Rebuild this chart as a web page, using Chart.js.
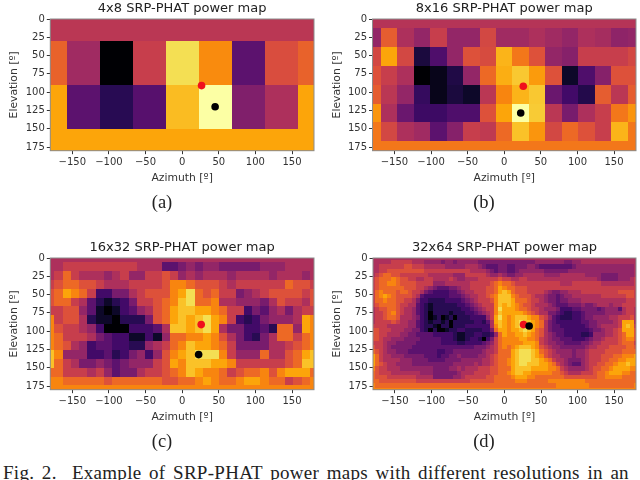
<!DOCTYPE html>
<html lang="en">
<head>
<meta charset="UTF-8">
<title>SRP-PHAT power maps</title>
<script src="https://cdn.jsdelivr.net/npm/chart.js"></script>
<style>
  html, body { margin: 0; padding: 0; background: #fff; overflow: hidden; }
  body { width: 640px; height: 480px; position: relative; }
  canvas { position: absolute; }
  .cap { position: absolute; font-family: "Liberation Serif", serif; font-size: 18.5px; color: #222; width: 60px; text-align: center; line-height: 20px; }
  #foot { position: absolute; left: 3px; top: 463px; width: 640px; font-family: "Liberation Serif", serif; font-size: 19px; color: #222; white-space: pre; line-height: 20px; word-spacing: 2.6px; letter-spacing: 0.28px; }
</style>
</head>
<body>
<canvas id="pa" width="320" height="200" style="left:0;top:0"></canvas>
<canvas id="pb" width="320" height="200" style="left:320px;top:0"></canvas>
<canvas id="pc" width="320" height="200" style="left:0;top:239px"></canvas>
<canvas id="pd" width="320" height="200" style="left:320px;top:239px"></canvas>
<div class="cap" style="left:132px;top:192px">(a)</div>
<div class="cap" style="left:454px;top:192px">(b)</div>
<div class="cap" style="left:132px;top:431px">(c)</div>
<div class="cap" style="left:454px;top:431px">(d)</div>
<div id="foot">Fig. 2.  Example of SRP-PHAT power maps with different resolutions in an</div>
<script>
// power levels: 0 = black ... 15 = pale yellow (inferno)
const inferno = ['#000004','#0d0829','#280b53','#420a68','#5c126e','#781c6d','#932667','#ad305c','#c73e4c','#dd513a','#ed6925','#f8850f','#fca50a','#fac228','#f4df53','#fcffa4'];

const xTicks = [-150, -100, -50, 0, 50, 100, 150];
const yTicks = [0, 25, 50, 75, 100, 125, 150, 175];
const xLabel = 'Azimuth [º]';
const yLabel = 'Elevation [º]';

const titles = ['4x8 SRP-PHAT power map', '8x16 SRP-PHAT power map', '16x32 SRP-PHAT power map', '32x64 SRP-PHAT power map'];

// [azimuth, elevation] of the two markers in each panel
const redPoints = [[26.5, 91], [26, 92], [26, 91], [26, 91]];
const blackPoints = [[45, 120], [22.5, 128.5], [22.5, 132], [33.75, 92.9]];

const map4x8 = [
  [7.5, 7.5, 7.5, 7.5, 7.5, 7.5, 7.5, 7.5],
  [9.7, 6.5, 0, 8, 14, 11.2, 4, 8.8],
  [12, 4, 2, 3.8, 12.8, 15, 5.3, 7],
  [12, 12, 12, 12, 12, 12, 12, 12]
];

const map8x16 = [
  [7.3, 7.3, 7.3, 7.3, 7.3, 7.3, 7.3, 7.3, 7.3, 7.3, 7.3, 7.3, 7.3, 7.3, 7.3, 7.3],
  [6, 9.5, 7, 6, 8, 6, 6, 8.5, 6.5, 6.5, 7, 6.5, 6, 7, 6.7, 5.8],
  [8.5, 12, 8.5, 1.5, 3.5, 6, 9, 8.7, 12.5, 10.5, 9, 6, 5.5, 8, 8, 8],
  [9, 8, 7, 0, 0.6, 1.7, 6, 10, 12.3, 13.2, 11.7, 9, 1, 3.5, 5.5, 9],
  [9.5, 7.5, 6, 2.5, 0.6, 1.5, 1, 7.5, 11, 12.5, 13.2, 4.5, 3, 1.8, 9.5, 7.5],
  [11.5, 7, 4.5, 2.8, 2.8, 3.5, 3.5, 9, 12, 15, 13.3, 7.5, 5, 7, 8, 10.5],
  [10.5, 8.5, 7, 6.5, 4, 5.5, 8, 7.7, 10, 13, 11.5, 8.5, 10, 9, 8, 12.5],
  [10.5, 10.5, 10.5, 10.5, 10.5, 10.5, 10.5, 10.5, 10.5, 10.5, 10.5, 10.5, 10.5, 10.5, 10.5, 10.5]
];

// one hex digit per cell
const map16x32 = [
  '77777777777777777777777777777777',
  '77888888888777445656655555666777',
  '78a87776786688986767776777767776',
  '89aa99877788889bba99987888888a99',
  '9acba8335578999bcea9a88567899998',
  '9aa87421235889abdeaab77666579887',
  '88996410134679acddccba8835467578',
  'b8997211022259acdcdecb832356667c',
  'b98876300033347ddcdec7553342aa6c',
  'ba8887543311316aabbcb9753257aa8a',
  'ba9763443322678abdccba855557789a',
  'db6663342356369bcdeeeb8666a779ac',
  'da8755654566689cbdddccb8888889ad',
  'aa8887864557889abdcbba89aab9bccc',
  'bbaaaaa9aaaaaa99aabcbaabccbaa89a',
  'bbbbbbbbbbbbbbbbbbbbbbbbbbbbbbbb'
];

// azimuth -180 .. -5.6
const map32x64Left = [
  '77777777777777777777777777777777',
  '77777888887776666566566666555555',
  '77888888998887777766666777654445',
  '77889999999998888888888877776545',
  '789aa998888888777777666888887667',
  '89aaaba9988778877778766777888889',
  '89aabba99998888666777777888889ab',
  '89aaaaaa9998876544455677888899ac',
  '8abaaa9aa988754333344567788899ac',
  '8abcba99998743333334445677889abd',
  '8aabaa998875332222333345678889bd',
  '89aaaa988774321222222334567888bd',
  '7899aa987764321222222233456788be',
  '7889ab987764320222212223345678bd',
  '7889aa977765320120120222333368ce',
  '788889877664321221202222233247cd',
  '888877777664322102202223333337bd',
  '998887776655320200122332222335ac',
  '99887776655444433333211223322 36a'.split(' ').join(''),
  '998776665555444443332112332035 8a'.split(' ').join(''),
  '88876655555444444333322333345 68a'.split(' ').join(''),
  '98876555554444444444444445556 78a'.split(' ').join(''),
  'a9876655544444443344555555567 78a'.split(' ').join(''),
  'ca877666555554443445565555667 89a'.split(' ').join(''),
  'ca877776665555444455556666677 89a'.split(' ').join(''),
  'ca987766665555555555666667677 89a'.split(' ').join(''),
  'b9887776666666655556676777888 99a'.split(' ').join(''),
  'a9888777777766655555567778888 99a'.split(' ').join(''),
  'a9998888888777755555667888889 9aa'.split(' ').join(''),
  'aa99999999988888888888889999 99aa'.split(' ').join(''),
  'baaaaaaaaaaaaaaaaaaaaaaaaaaaaaaa',
  'bbbbbbbbbbbbbbbbbbbbbbbbbbbbbbbb'
];

// azimuth 0 .. 174.4
const map32x64Right = [
  '77777777777777777777777777777777',
  '55555555666666655667777777777777',
  '54455566544444444566666666666666',
  '54456666665555556666666666666666',
  '65566777776666777777666655556666',
  '88778877777777777777777655556667',
  'aa988888888888777888888877777777',
  'baa99988888888888888888888888888',
  'dca99988887655667778888888889999',
  'ddba9998776554566777777788888899',
  'ddcaaa98876554556667777777777788',
  'cdcba998777654445556556777677888',
  'cccbaa98876665333445555456664788',
  'cccccba9877554322334555556666788',
  'cbcdddcbb98643222334556666778889',
  'cbcdeddcba7543333334455666678ccc',
  'cbcdeedcba7544333333455677778cdc',
  'cbccdedca97544433333345567789ccc',
  'cbbccdcba97654433332236667789acc',
  'bbbbccbba87655444333456678889abb',
  'bbbbbcccb87665544445567788889aaa',
  'babcdddcb987665555556778889999aa',
  'aacdeeedca9876666566788889999aaa',
  'aacdeeedcb98776665667888999aabbb',
  'abcdeeeddcba87765556788899aabbcc',
  'abcdeedddccba876544678899aabccdc',
  'aacddddccccbba8766667899aabccccb',
  'abcddccbbbbbaa987778889aabcccbba',
  'aabcccbbaaaaaaa99999999aabbbbaaa',
  'aaabbbaaaaabbbbbbbbbaaaaaaaaaaaa',
  'aaaaaaaaaaaaabbbbbbbbaaaaaaaaaaa',
  'bbbbbbbbbbbbbbbbbbbbbbbbbbbbbbbb'
];

function hexRows(rows) {
  return rows.map(r => r.split('').map(c => parseInt(c, 16)));
}

const maps = [
  map4x8,
  map8x16,
  hexRows(map16x32),
  hexRows(map32x64Left.map((r, i) => r + map32x64Right[i]))
];

function levelColor(v) {
  const lo = Math.floor(v), hi = Math.min(lo + 1, 15), t = v - lo;
  const rgb = s => [1, 3, 5].map(i => parseInt(s.substr(i, 2), 16));
  const a = rgb(inferno[lo]), b = rgb(inferno[hi]);
  return 'rgb(' + a.map((x, i) => Math.round(x + (b[i] - x) * t)).join(',') + ')';
}

// draws the map cells through the chart scales; azimuth wraps round, so column 0 shows again at +180
const heatmap = {
  id: 'heatmap',
  beforeDatasetsDraw(chart, args, opts) {
    const { ctx, scales: { x, y } } = chart;
    const grid = opts.grid, rows = grid.length, cols = grid[0].length;
    const dEl = 180 / (rows - 1), dAz = 360 / cols;
    for (let r = 0; r < rows; r++) {
      const top = Math.round(y.getPixelForValue(Math.max(0, (r - 0.5) * dEl)));
      const bot = Math.round(y.getPixelForValue(Math.min(180, (r + 0.5) * dEl)));
      for (let c = 0; c <= cols; c++) {
        const az = -180 + c * dAz;
        const l = Math.round(x.getPixelForValue(Math.max(-180, az - dAz / 2)));
        const w = Math.round(x.getPixelForValue(Math.min(180, az + dAz / 2)));
        ctx.fillStyle = levelColor(grid[r][c % cols]);
        ctx.fillRect(l, top, w - l, bot - top);
      }
    }
  },
  afterDatasetsDraw(chart) {
    const { ctx, chartArea: a } = chart;
    ctx.strokeStyle = '#8c8c8c';
    ctx.lineWidth = 1;
    ctx.strokeRect(a.left, a.top, a.right - a.left, a.bottom - a.top);
  }
};

// y axis width, right padding and y title offset per panel
const yWidths = [50.3, 52.5, 50.3, 53];
const rightPads = [6, 4, 6, 4];
const yTitlePads = [8, 11, 8, 11];

['pa', 'pb', 'pc', 'pd'].forEach((id, i) => {
  new Chart(document.getElementById(id), {
    type: 'scatter',
    data: {
      datasets: [
        { data: [{ x: blackPoints[i][0], y: blackPoints[i][1] }], backgroundColor: '#000', borderWidth: 0, pointRadius: 3.8 },
        { data: [{ x: redPoints[i][0], y: redPoints[i][1] }], backgroundColor: '#f0101c', borderWidth: 0, pointRadius: 3.8 }
      ]
    },
    plugins: [heatmap],
    options: {
      responsive: false,
      animation: false,
      layout: { padding: { top: 0, left: 0, right: rightPads[i], bottom: 0 } },
      plugins: {
        legend: { display: false },
        tooltip: { enabled: false },
        heatmap: { grid: maps[i] },
        title: {
          display: true,
          text: titles[i],
          fullSize: false,
          color: '#222',
          font: { family: 'DejaVu Sans', size: 13, weight: 'normal' },
          padding: { top: 1, bottom: 2.4 }
        }
      },
      scales: {
        x: {
          type: 'linear', min: -180, max: 180,
          afterBuildTicks: s => { s.ticks = xTicks.map(v => ({ value: v })); },
          afterFit: s => { s.height = 49.3; },
          grid: { drawOnChartArea: false, color: '#333', tickLength: 3.5 },
          border: { display: false },
          ticks: {
            autoSkip: false, maxRotation: 0, padding: 2, color: '#333',
            font: { family: 'DejaVu Sans', size: 10 },
            callback: v => String(v).replace('-', '\u2212')
          },
          title: { display: true, text: xLabel, color: '#333', font: { family: 'DejaVu Sans', size: 10.8 }, padding: { top: 0, bottom: 15 } }
        },
        y: {
          type: 'linear', min: 0, max: 180, reverse: true,
          afterBuildTicks: s => { s.ticks = yTicks.map(v => ({ value: v })); },
          afterFit: s => { s.width = yWidths[i]; },
          grid: { drawOnChartArea: false, color: '#333', tickLength: 3.5 },
          border: { display: false },
          ticks: { autoSkip: false, padding: 2, color: '#333', font: { family: 'DejaVu Sans', size: 10 } },
          title: { display: true, text: yLabel, color: '#333', font: { family: 'DejaVu Sans', size: 10.8 }, padding: { top: yTitlePads[i], bottom: 0 } }
        }
      }
    }
  });
});
</script>
</body>
</html>
